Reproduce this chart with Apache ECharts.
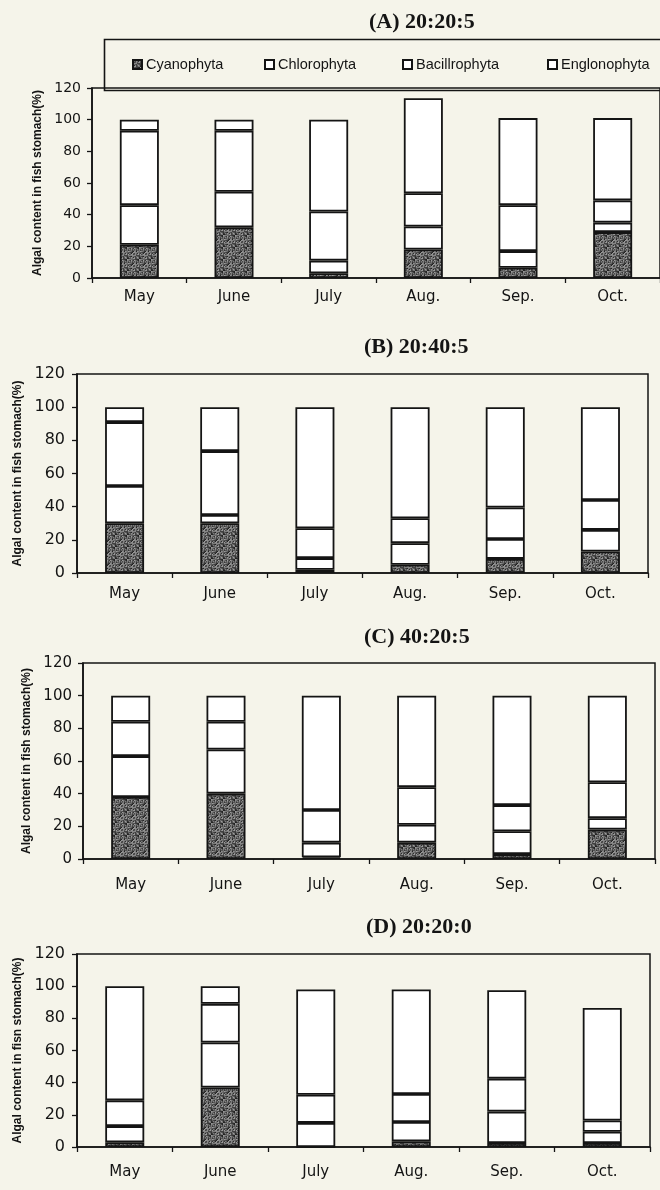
<!DOCTYPE html>
<html>
<head>
<meta charset="utf-8">
<script src="https://cdn.jsdelivr.net/npm/echarts/dist/echarts.min.js"></script>
<style>
html,body{margin:0;padding:0;background:#f5f4ea;}
#c{width:660px;height:1190px;}
</style>
</head>
<body>
<div id="c"></div>
<script>
// ---- data ----
const months = ['May', 'June', 'July', 'Aug.', 'Sep.', 'Oct.'];
const seriesNames = ['Cyanophyta', 'Chlorophyta', 'Bacillrophyta', 'Englonophyta'];
const panelTitles = ['(A) 20:20:5', '(B) 20:40:5', '(C) 40:20:5', '(D) 20:20:0'];
const yTicks = [0, 20, 40, 60, 80, 100, 120];
const yNames = ['Algal content in fish stomach(%)', 'Algal content in fish stomach(%)',
                'Algal content in fish stomach(%)', 'Algal content in fisn stomach(%)'];

// Panel A  (20:20:5)
const cyanA   = [21, 32, 3, 18, 6.5, 29];
const chloroA = [25, 22.5, 8, 14.5, 10.5, 6];
const bacilA  = [47, 38.5, 31, 21, 29, 14];
const euglA   = [7, 7, 58, 60, 55, 52];
// Panel B  (20:40:5)
const cyanB   = [30, 30, 2, 5, 8.5, 13];
const chloroB = [22.5, 5, 7, 13, 12, 13];
const bacilB  = [38.5, 38.5, 18, 15, 19, 18];
const euglB   = [9, 26.5, 73, 67, 60.5, 56];
// Panel C  (40:20:5)
const cyanC   = [38, 40, 1, 10, 3, 18];
const chloroC = [25, 27, 9, 11, 14, 7];
const bacilC  = [21, 17, 20, 23, 16, 22];
const euglC   = [16, 16, 70, 56, 67, 53];
// Panel D  (20:20:0)
const cyanD   = [3, 37, 0, 3.5, 2.5, 2.5];
const chloroD = [10, 28, 15, 12, 19.5, 7];
const bacilD  = [16, 24, 17.5, 17.5, 20.5, 7];
const euglD   = [71, 11, 65.5, 65, 55, 70];

const panelData = [
  [cyanA, chloroA, bacilA, euglA],
  [cyanB, chloroB, bacilB, euglB],
  [cyanC, chloroC, bacilC, euglC],
  [cyanD, chloroD, bacilD, euglD]
];

// ---- layout / style ----
const grids = [
  {left: 92, top: 88, height: 190, right: -10},
  {left: 77, top: 374, height: 199, right: 12},
  {left: 83, top: 663, height: 196, right: 5},
  {left: 77, top: 954, height: 193, right: 10}
];
const titlePos = [{left: 364, top: 6}, {left: 359, top: 331}, {left: 359, top: 621}, {left: 361, top: 911}];
const yLabelSize = [14, 16, 15, 16];
const yLabelMargin = [11, 12, 11, 12];
const nameGaps = [46, 52, 49, 52];
const xLabelMargin = [12, 14, 19, 18];

function makeSpeckle() {
  const c = document.createElement('canvas');
  c.width = 12; c.height = 12;
  const ctx = c.getContext('2d');
  for (let y = 0; y < 12; y++) {
    for (let x = 0; x < 12; x++) {
      const h = (x * 73 + y * 151 + x * y * 29 + ((x ^ y) * 17)) % 13;
      const g = 35 + h * 10;
      ctx.fillStyle = 'rgb(' + g + ',' + g + ',' + g + ')';
      ctx.fillRect(x, y, 1, 1);
    }
  }
  return c;
}
const speckle = {image: makeSpeckle(), repeat: 'repeat'};
const fills = [speckle, '#ffffff', '#ffffff', '#ffffff'];

const ink = '#141414';
const option = {
  backgroundColor: '#f5f4ea',
  animation: false,
  title: panelTitles.map((t, i) => ({
    text: t, left: titlePos[i].left, top: titlePos[i].top,
    textStyle: {fontFamily: 'Liberation Serif', fontWeight: 'bold', fontSize: 22, color: ink}
  })),
  legend: seriesNames.map((n, i) => ({
    data: [n], left: [127, 259, 397, 542][i], top: 52,
    itemWidth: 9, itemHeight: 9, itemGap: 0,
    icon: 'rect',
    textStyle: {fontFamily: 'Liberation Sans', fontSize: 14.5, color: ink, padding: [0, 0, 0, -1]},
    selectedMode: false
  })),
  graphic: [{
    type: 'rect', left: 102, top: 37, z: 10, silent: true,
    shape: {x: 0, y: 0, width: 600, height: 51},
    style: {fill: 'none', stroke: ink, lineWidth: 1.6}
  }],
  grid: grids.map(g => Object.assign({show: true, borderColor: ink, borderWidth: 1.5, backgroundColor: 'transparent'}, g)),
  xAxis: grids.map((g, i) => ({
    type: 'category', gridIndex: i, data: months,
    axisLine: {lineStyle: {color: ink, width: 1.6}},
    axisTick: {show: true, length: 5, lineStyle: {color: ink, width: 1.3}},
    axisLabel: {fontFamily: 'DejaVu Sans', fontSize: 15, color: ink, margin: xLabelMargin[i]}
  })),
  yAxis: grids.map((g, i) => ({
    type: 'value', gridIndex: i, min: yTicks[0], max: yTicks[yTicks.length - 1], interval: 20,
    name: yNames[i], nameLocation: 'middle', nameRotate: 90, nameGap: nameGaps[i],
    nameTextStyle: {fontFamily: 'Liberation Sans', fontWeight: 'bold', fontSize: 12, color: ink},
    axisLine: {show: true, lineStyle: {color: ink, width: 1.6}},
    axisTick: {show: true, length: 5, lineStyle: {color: ink, width: 1.3}},
    splitLine: {show: false},
    axisLabel: {fontFamily: 'DejaVu Sans', fontSize: yLabelSize[i], color: ink, margin: yLabelMargin[i]}
  })),
  series: []
};

panelData.forEach((arrs, p) => {
  arrs.forEach((vals, s) => {
    option.series.push({
      type: 'bar', name: seriesNames[s], stack: 'p' + p,
      xAxisIndex: p, yAxisIndex: p, data: vals,
      barWidth: 39,
      itemStyle: {color: fills[s], borderColor: ink, borderWidth: 1.8},
      emphasis: {disabled: true}
    });
  });
});

const chart = echarts.init(document.getElementById('c'), null, {renderer: 'canvas'});
chart.setOption(option);
</script>
</body>
</html>
